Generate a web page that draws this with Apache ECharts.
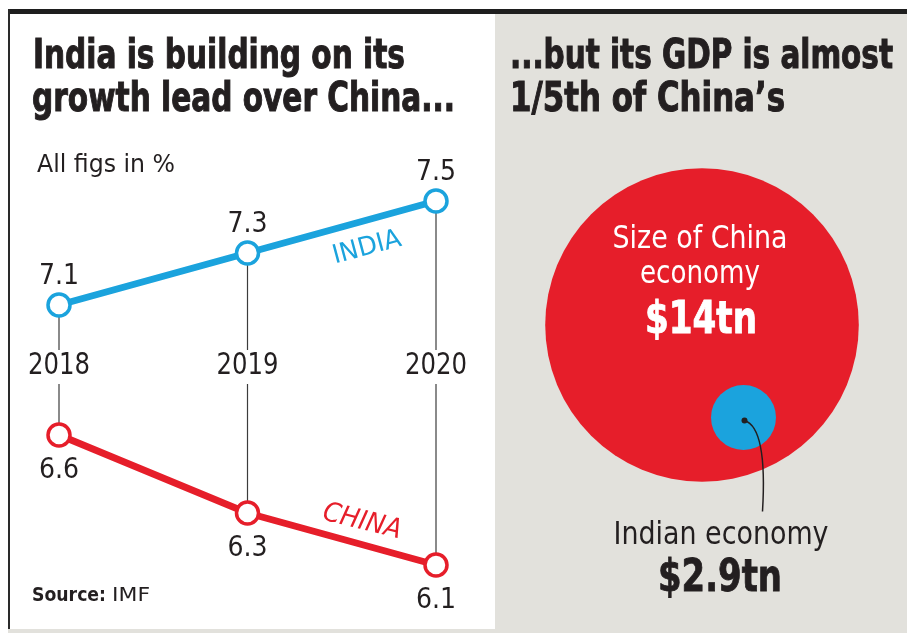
<!DOCTYPE html>
<html>
<head>
<meta charset="utf-8">
<script src="https://cdn.jsdelivr.net/npm/echarts@6/dist/echarts.min.js"></script>
<style>
  html, body { margin: 0; padding: 0; background: #ffffff; }
  #chart { width: 907px; height: 633px; }
</style>
</head>
<body>
<div id="chart"></div>
<script>
// ---- data ----
const years = ['2018', '2019', '2020'];
const indiaGrowth = [7.1, 7.3, 7.5];   // GDP growth, %
const chinaGrowth = [6.6, 6.3, 6.1];   // GDP growth, %
const economyNames = ['China', 'India'];
const gdpTrillions = [14, 2.9];        // economy size, $ trillion

// ---- styling ----
const NARROW = "'Liberation Sans Narrow', 'DejaVu Sans Condensed', 'Arial Narrow', sans-serif";
const BLUE = '#1ba3dd';
const RED = '#e61e2a';
const INK = '#231f20';
const PANEL = '#e2e1dc';
const YEAR_Y = 366;          // vertical centre of the year row
const BIG_CX = 702, BIG_CY = 325;
const PX_PER_TN = 11.2;      // bubble radius per $1tn

// horizontal squeeze so a text run spans the wanted width
const measureCtx = document.createElement('canvas').getContext('2d');
function squeeze(text, font, width) {
  measureCtx.font = font;
  return width / measureCtx.measureText(text).width;
}
function fitText(text, font, x, y, width, fill, align, heavy) {
  const style = { text: text, font: font, fill: fill || INK,
                  textAlign: align || 'left', textVerticalAlign: 'middle' };
  if (heavy) { style.stroke = fill || INK; style.lineWidth = heavy; }
  return {
    type: 'text', x: x, y: y, scaleX: squeeze(text, font, width), scaleY: 1,
    silent: true, style: style
  };
}

const TITLE_FONT = 'bold 40px ' + NARROW;

const chart = echarts.init(document.getElementById('chart'), null, { renderer: 'canvas' });

chart.setOption({
  animation: false,
  backgroundColor: '#ffffff',
  graphic: [
    // panels and rules
    { type: 'rect', z: -10, silent: true, shape: { x: 495, y: 14, width: 412, height: 619 }, style: { fill: PANEL } },
    { type: 'rect', z: -10, silent: true, shape: { x: 8, y: 629, width: 899, height: 4 }, style: { fill: PANEL } },
    { type: 'rect', z: -5, silent: true, shape: { x: 8, y: 9, width: 899, height: 5 }, style: { fill: '#1e1e1e' } },
    { type: 'rect', z: -5, silent: true, shape: { x: 8, y: 9, width: 2, height: 620 }, style: { fill: '#2a2a2a' } },
    // headings
    fitText('India is building on its', TITLE_FONT, 33, 58, 372, INK, 'left', 1),
    fitText('growth lead over China...', TITLE_FONT, 32, 101, 423, INK, 'left', 1),
    fitText('...but its GDP is almost', TITLE_FONT, 510, 58, 383, INK, 'left', 1),
    fitText('1/5th of China\u2019s', TITLE_FONT, 510, 101, 275, INK, 'left', 1),
    // notes
    fitText('All figs in %', '25px ' + NARROW, 37, 165, 138),
    fitText('Source:', 'bold 20px ' + NARROW, 32, 596, 74),
    fitText('IMF', '20px ' + NARROW, 112, 596, 38),
    // series names along the lines
    Object.assign(fitText('INDIA', '26px ' + NARROW, 367, 248, 70, BLUE, 'center'),
                  { rotation: 15 * Math.PI / 180 }),
    Object.assign(fitText('CHINA', 'italic 27px ' + NARROW, 362, 522, 80, RED, 'center'),
                  { rotation: -14 * Math.PI / 180 })
  ],
  grid: { left: 59, width: 377, top: 123, bottom: 16 },
  xAxis: {
    type: 'category', data: years, boundaryGap: false, show: false
  },
  yAxis: {
    type: 'value', min: 5.9, max: 7.8, show: false
  },
  series: [
    {
      // year row with connectors to both lines
      type: 'custom',
      silent: true,
      z: 1,
      data: years.map((y, i) => [i, indiaGrowth[i], chinaGrowth[i]]),
      renderItem: function (params, api) {
        const top = api.coord([api.value(0), api.value(1)]);
        const bot = api.coord([api.value(0), api.value(2)]);
        const x = top[0];
        const rule = { stroke: '#3c3c3c', lineWidth: 1.2 };
        const font = '31px ' + NARROW;
        return {
          type: 'group',
          children: [
            { type: 'line', shape: { x1: x, y1: top[1] + 10, x2: x, y2: YEAR_Y - 16 }, style: rule },
            { type: 'line', shape: { x1: x, y1: YEAR_Y + 18, x2: x, y2: bot[1] - 10 }, style: rule },
            { type: 'text', x: x, y: YEAR_Y, scaleX: squeeze(years[params.dataIndex], font, 62),
              style: { text: years[params.dataIndex], font: font, fill: INK,
                       textAlign: 'center', textVerticalAlign: 'middle' } }
          ]
        };
      }
    },
    {
      name: 'India',
      type: 'line',
      data: indiaGrowth,
      silent: true,
      z: 3,
      symbol: 'circle',
      symbolSize: 22,
      lineStyle: { color: BLUE, width: 7 },
      itemStyle: { color: '#ffffff', borderColor: BLUE, borderWidth: 3.5 },
      label: {
        show: true, position: 'top', distance: 2,
        color: INK, fontFamily: NARROW, fontSize: 28
      }
    },
    {
      name: 'China',
      type: 'line',
      data: chinaGrowth,
      silent: true,
      z: 3,
      symbol: 'circle',
      symbolSize: 22,
      lineStyle: { color: RED, width: 7 },
      itemStyle: { color: '#ffffff', borderColor: RED, borderWidth: 3.5 },
      label: {
        show: true, position: 'bottom', distance: 9,
        color: INK, fontFamily: NARROW, fontSize: 28
      }
    },
    {
      // economy bubbles, radius proportional to size
      type: 'custom',
      coordinateSystem: 'none',
      silent: true,
      z: 5,
      data: gdpTrillions.map(v => [v]),
      renderItem: function (params, api) {
        const v = api.value(0);
        const r = v * PX_PER_TN;
        const amount = '$' + v + 'tn';
        if (params.dataIndex === 0) {
          return {
            type: 'group',
            children: [
              { type: 'circle', shape: { cx: BIG_CX, cy: BIG_CY, r: r }, style: { fill: RED } },
              fitText('Size of ' + economyNames[0], '32px ' + NARROW, BIG_CX - 2, BIG_CY - 85, 175, '#ffffff', 'center'),
              fitText('economy', '32px ' + NARROW, BIG_CX - 2, BIG_CY - 50, 120, '#ffffff', 'center'),
              fitText(amount, 'bold 44px ' + NARROW, BIG_CX - 1, BIG_CY - 3, 112, '#ffffff', 'center', 0.8)
            ]
          };
        }
        const cx = BIG_CX + 41.5, cy = BIG_CY + 92.5;
        return {
          type: 'group',
          children: [
            { type: 'circle', shape: { cx: cx, cy: cy, r: r }, style: { fill: BLUE } },
            { type: 'bezierCurve',
              shape: { x1: cx + 1, y1: cy + 3, cpx1: cx + 24, cpy1: cy + 10, x2: cx + 19, y2: cy + 94 },
              style: { stroke: INK, lineWidth: 1.5, fill: 'none' } },
            { type: 'circle', shape: { cx: cx + 1, cy: cy + 3, r: 3 }, style: { fill: INK } },
            fitText('Indian economy', '32px ' + NARROW, 721, 536, 215, INK, 'center'),
            fitText(amount, 'bold 44px ' + NARROW, 720, 580, 124, INK, 'center', 0.8)
          ]
        };
      }
    }
  ]
});
</script>
</body>
</html>
